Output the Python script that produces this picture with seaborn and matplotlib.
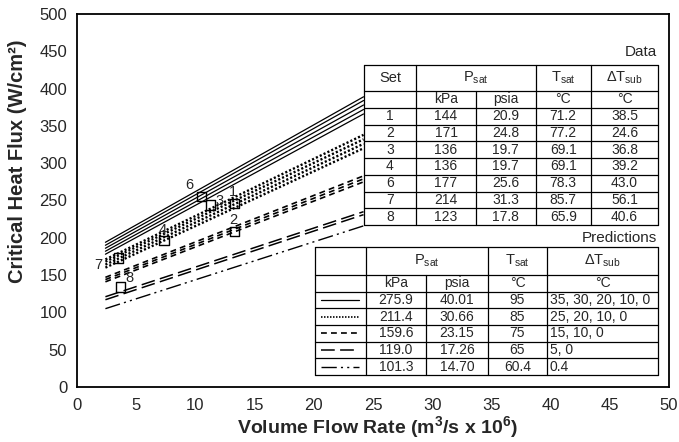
import numpy as np
import pandas as pd
import matplotlib
matplotlib.use("Agg")
import matplotlib.pyplot as plt
import seaborn as sns
from matplotlib.lines import Line2D
from matplotlib.patches import Rectangle

# ---------------- data ----------------
set_ids = ["1", "2", "3", "4", "6", "7", "8"]
set_flow = [13.3, 13.3, 11.3, 7.35, 10.5, 3.5, 3.7]
set_chf = [246, 208, 244, 196, 255, 173, 134]
set_kpa = ["144", "171", "136", "136", "177", "214", "123"]
set_psia = ["20.9", "24.8", "19.7", "19.7", "25.6", "31.3", "17.8"]
set_tsat = ["71.2", "77.2", "69.1", "69.1", "78.3", "85.7", "65.9"]
set_dtsub = ["38.5", "24.6", "36.8", "39.2", "43.0", "56.1", "40.6"]

pred_kpa = ["275.9", "211.4", "159.6", "119.0", "101.3"]
pred_psia = ["40.01", "30.66", "23.15", "17.26", "14.70"]
pred_tsat = ["95", "85", "75", "65", "60.4"]
pred_dtsub = ["35, 30, 20, 10, 0", "25, 20, 10, 0", "15, 10, 0", "5, 0", "0.4"]

line_flow = [2.4, 24.2]
solid_start = [194, 190, 186, 182, 178]
solid_end = [389, 384, 378, 372, 366]
dotted_start = [171, 168, 164, 160]
dotted_end = [338, 332, 326, 320]
dashed_start = [147, 144, 141]
dashed_end = [283, 279, 275]
longdash_start = [121, 117]
longdash_end = [235, 231]
dashdot_start = [105]
dashdot_end = [216]

x_ticks = [0, 5, 10, 15, 20, 25, 30, 35, 40, 45, 50]
y_ticks = [0, 50, 100, 150, 200, 250, 300, 350, 400, 450, 500]

# ---------------- style ----------------
sns.set_theme(style="white")
plt.rcParams["font.family"] = ["Liberation Sans", "DejaVu Sans"]
plt.rcParams["mathtext.fontset"] = "custom"
plt.rcParams["mathtext.rm"] = "Liberation Sans"
plt.rcParams["mathtext.it"] = "Liberation Sans:italic"
plt.rcParams["mathtext.bf"] = "Liberation Sans:bold"

W, H = 679, 442
fig = plt.figure(figsize=(W / 100, H / 100), dpi=100)
ax = fig.add_axes([77 / W, 1 - 387 / H, (669 - 77) / W, (387 - 14) / H])

groups = [
    (solid_start, solid_end, "-", 0.9),
    (dotted_start, dotted_end, (0, (0.9, 0.9)), 1.7),
    (dashed_start, dashed_end, (0, (3.5, 2.5)), 1.2),
    (longdash_start, longdash_end, (0, (9, 3.5)), 1.1),
    (dashdot_start, dashdot_end, (0, (11, 3, 1.5, 3, 1.5, 3)), 1.0),
]
styles = []
for gi, (st, en, ls, lw) in enumerate(groups):
    rows = []
    for ci, (a, b) in enumerate(zip(st, en)):
        rows.append({"curve": ci, "flow": line_flow[0], "chf": a})
        rows.append({"curve": ci, "flow": line_flow[1], "chf": b})
    df = pd.DataFrame(rows)
    sns.lineplot(data=df, x="flow", y="chf", units="curve", estimator=None,
                 color="black", linestyle=ls, linewidth=lw, ax=ax, legend=False)
    styles.append((ls, lw))

pts = pd.DataFrame({"flow": set_flow, "chf": set_chf, "set": set_ids})
sns.scatterplot(data=pts, x="flow", y="chf", marker="s", s=45,
                facecolor="none", edgecolor="black", linewidth=1.0, ax=ax,
                zorder=4, legend=False)
offsets = {"1": (-1.4, 8.4), "2": (-0.7, 8.4), "3": (6, 3.1), "4": (-0.7, 7.7),
           "6": (-8.6, 8.4), "7": (-14.6, -5.3), "8": (6.5, 6.3)}
for fl, ch, s in zip(set_flow, set_chf, set_ids):
    ax.annotate(s, (fl, ch), xytext=offsets[s], textcoords="offset points",
                ha="center", va="center", fontsize=10.5)

ax.set_xlim(0, 50)
ax.set_ylim(0, 500)
ax.set_xticks(x_ticks)
ax.set_yticks(y_ticks)
ax.tick_params(length=0, labelsize=12)
ax.tick_params(axis="x", pad=8)
ax.tick_params(axis="y", pad=7)
for sp in ax.spines.values():
    sp.set_color("black")
    sp.set_linewidth(1.3)
ax.set_xlabel(r"Volume Flow Rate (m$^\mathbf{3}$/s x 10$^\mathbf{6}$)",
              fontsize=14, fontweight="bold", va="center")
ax.set_ylabel("Critical Heat Flux (W/cm²)", fontsize=14.5, fontweight="bold",
              va="center")
ax.xaxis.set_label_coords(0.507, -0.108)
ax.yaxis.set_label_coords(-0.1, 0.605)

# ---------------- tables (pixel layout) ----------------
def fx(x):
    return x / W

def fy(y):
    return 1 - y / H

def seg(x0, x1, y0, y1, lw=0.9, ls="-"):
    fig.add_artist(Line2D([fx(x0), fx(x1)], [fy(y0), fy(y1)],
                          transform=fig.transFigure, color="black",
                          lw=lw, linestyle=ls, zorder=6))

def txt(x, y, s, ha="center", size=10):
    fig.text(fx(x), fy(y), s, ha=ha, va="center", fontsize=size, zorder=7)

def box(x0, x1, y0, y1):
    fig.add_artist(Rectangle((fx(x0), fy(y1)), fx(x1) - fx(x0), fy(y0) - fy(y1),
                             transform=fig.transFigure, facecolor="white",
                             edgecolor="none", zorder=5))

psat = r"P$_\mathregular{sat}$"
tsat = r"T$_\mathregular{sat}$"
dts = r"ΔT$_\mathregular{sub}$"

# Data table
dc = [364, 416, 476, 535.5, 591, 658]
dtop, dhb = 65, 91
rh = 16.75
nrow = 1 + len(set_ids)
dbot = dhb + rh * nrow
box(dc[0], dc[-1], dtop, dbot)
seg(dc[0], dc[-1], dtop, dtop)
seg(dc[0], dc[-1], dhb, dhb)
for i in range(1, nrow + 1):
    seg(dc[0], dc[-1], dhb + rh * i, dhb + rh * i)
for j, xc in enumerate(dc):
    if j == 2:
        seg(xc, xc, dhb, dbot)
    else:
        seg(xc, xc, dtop, dbot)
hc = (dtop + dhb) / 2
txt((dc[0] + dc[1]) / 2, hc, "Set", size=10.5)
txt((dc[1] + dc[3]) / 2, hc, psat, size=10.5)
txt((dc[3] + dc[4]) / 2, hc, tsat, size=10.5)
txt((dc[4] + dc[5]) / 2, hc, dts, size=10.5)
sc = dhb + rh / 2
txt((dc[1] + dc[2]) / 2, sc, "kPa")
txt((dc[2] + dc[3]) / 2, sc, "psia")
txt((dc[3] + dc[4]) / 2, sc, "°C")
txt((dc[4] + dc[5]) / 2, sc, "°C")
for i, vals in enumerate(zip(set_ids, set_kpa, set_psia, set_tsat, set_dtsub)):
    yc = dhb + rh * (i + 1.5)
    for j, v in enumerate(vals):
        txt((dc[j] + dc[j + 1]) / 2, yc, v)
txt(657, 52, "Data", ha="right", size=11)
txt(657, 238, "Predictions", ha="right", size=11)

# Predictions table
pc = [315, 366, 426, 488, 547, 658]
ptop, phb = 247, 275
prh = 16.67
pn = 1 + len(pred_kpa)
pbot = phb + prh * pn
box(pc[0], pc[-1], ptop, pbot)
seg(pc[0], pc[-1], ptop, ptop)
seg(pc[0], pc[-1], phb, phb)
for i in range(1, pn + 1):
    seg(pc[0], pc[-1], phb + prh * i, phb + prh * i)
for j, xc in enumerate(pc):
    if j == 2:
        seg(xc, xc, phb, pbot)
    else:
        seg(xc, xc, ptop, pbot)
hc = (ptop + phb) / 2
txt((pc[1] + pc[3]) / 2, hc, psat, size=10.5)
txt((pc[3] + pc[4]) / 2, hc, tsat, size=10.5)
txt((pc[4] + pc[5]) / 2, hc, dts, size=10.5)
sc = phb + prh / 2
txt((pc[1] + pc[2]) / 2, sc, "kPa")
txt((pc[2] + pc[3]) / 2, sc, "psia")
txt((pc[3] + pc[4]) / 2, sc, "°C")
txt((pc[4] + pc[5]) / 2, sc, "°C")
for i, vals in enumerate(zip(pred_kpa, pred_psia, pred_tsat)):
    yc = phb + prh * (i + 1.5)
    ls, lw = styles[i]
    seg(321, 359, yc, yc, lw=min(lw, 1.2), ls=ls)
    for j, v in enumerate(vals):
        txt((pc[j + 1] + pc[j + 2]) / 2, yc, v)
    txt(pc[4] + 3, yc, pred_dtsub[i], ha="left")

fig.savefig("out.png", dpi=100)
